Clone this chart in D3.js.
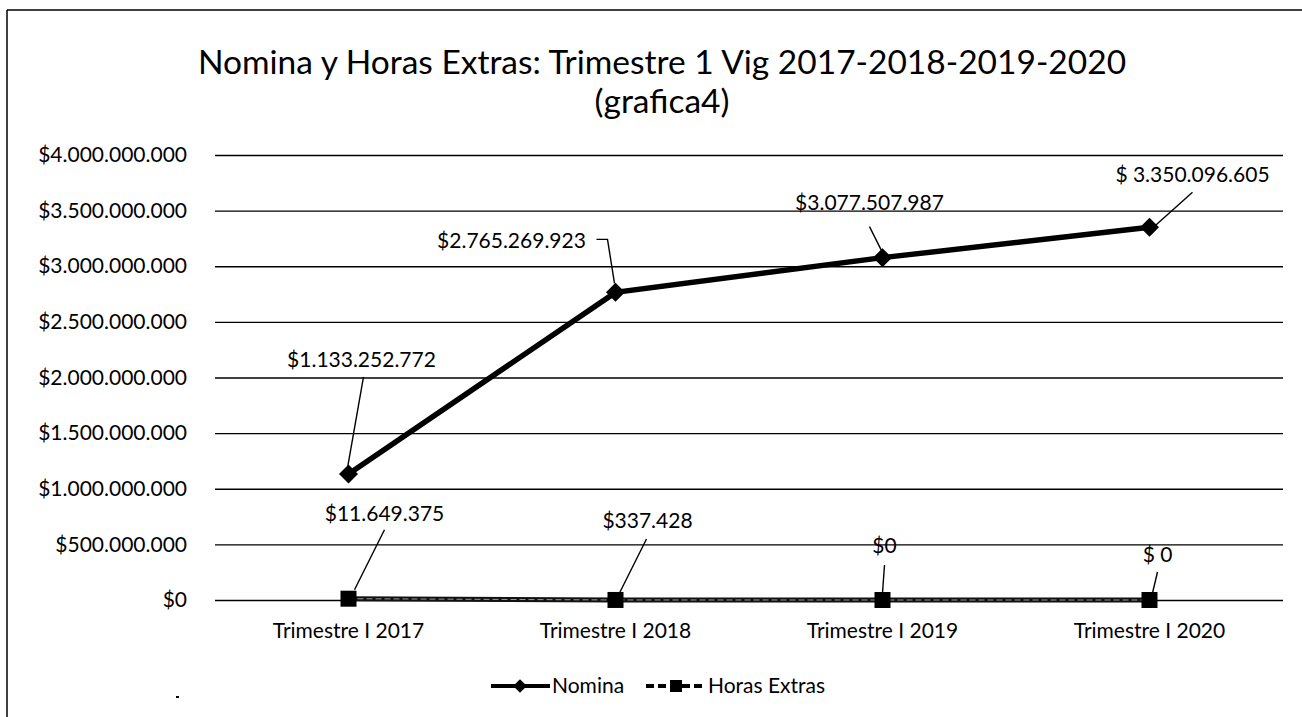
<!DOCTYPE html>
<html>
<head>
<meta charset="utf-8">
<script src="https://cdn.jsdelivr.net/npm/d3@7"></script>
<style>
  body { margin: 0; background: #fff; }
  text { font-family: Lato, "Open Sans", sans-serif; fill: #000; }
</style>
</head>
<body>
<div id="chart"></div>
<script>
// datos
var categorias = ["Trimestre I 2017", "Trimestre I 2018", "Trimestre I 2019", "Trimestre I 2020"];
var nomina     = [1133252772, 2765269923, 3077507987, 3350096605];
var horas      = [11649375, 337428, 0, 0];
var etqNomina  = ["$1.133.252.772", "$2.765.269.923", "$3.077.507.987", "$ 3.350.096.605"];
var etqHoras   = ["$11.649.375", "$337.428", "$0", "$ 0"];
var yTicks     = [0, 500000000, 1000000000, 1500000000, 2000000000, 2500000000, 3000000000, 3500000000, 4000000000];

var width  = 1302,
    height = 717;
var margin = {top: 155, right: 19, bottom: 117, left: 215};
var fs = "21px";

var svg = d3.select("#chart").append("svg")
      .attr("width", width)
      .attr("height", height);

// borde del grafico (escaneado, solo arriba e izquierda)
svg.append("line").attr("x1", 7).attr("y1", 10).attr("x2", width).attr("y2", 10)
   .attr("stroke", "#000").attr("stroke-width", 1.5);
svg.append("line").attr("x1", 7).attr("y1", 10).attr("x2", 7).attr("y2", height)
   .attr("stroke", "#000").attr("stroke-width", 1.5);

// titulo
svg.append("text").attr("x", 662).attr("y", 74).attr("text-anchor", "middle")
   .style("font-size", "33.5px").text("Nomina y Horas Extras: Trimestre 1 Vig 2017-2018-2019-2020");
svg.append("text").attr("x", 662).attr("y", 113).attr("text-anchor", "middle")
   .style("font-size", "33.5px").text("(grafica4)");

var x = d3.scaleBand()
      .domain(categorias)
      .range([margin.left, width - margin.right]);

var y = d3.scaleLinear()
      .domain([0, 4000000000])
      .range([height - margin.bottom, margin.top]);

function pesos(v) {
  return "$" + d3.format(",")(v).replace(/,/g, ".");
}

// lineas de cuadricula
var yAxis = svg.append("g")
      .attr("transform", "translate(" + margin.left + ",0)")
      .call(d3.axisLeft(y).tickValues(yTicks).tickSize(-(width - margin.left - margin.right))
            .tickPadding(28).tickFormat(pesos));
yAxis.select(".domain").remove();
yAxis.selectAll(".tick line").attr("stroke", "#000").attr("stroke-width", 1.3);
yAxis.selectAll(".tick text").style("font-size", fs).style("font-family", "Lato, sans-serif");

var xAxis = svg.append("g")
      .attr("transform", "translate(0," + (height - margin.bottom) + ")")
      .call(d3.axisBottom(x).tickSize(0).tickPadding(23));
xAxis.select(".domain").remove();
xAxis.selectAll(".tick text").style("font-size", fs).style("font-family", "Lato, sans-serif");

function cx(i) { return x(categorias[i]) + x.bandwidth() / 2; }

// Horas Extras
var lineaH = d3.line().x(function (d, i) { return cx(i); }).y(function (d) { return y(d); });
svg.append("path").datum(horas).attr("d", lineaH)
   .attr("fill", "none").attr("stroke", "#111").attr("stroke-width", 5);
svg.append("path").datum(horas).attr("d", lineaH)
   .attr("fill", "none").attr("stroke", "#999").attr("stroke-width", 1).attr("stroke-dasharray", "6,3");
svg.selectAll(".sq").data(horas).enter().append("rect")
   .attr("x", function (d, i) { return cx(i) - 8; })
   .attr("y", function (d) { return y(d) - 8; })
   .attr("width", 16).attr("height", 16).attr("fill", "#000");

// Nomina
svg.append("path").datum(nomina).attr("d", lineaH)
   .attr("fill", "none").attr("stroke", "#000").attr("stroke-width", 5.5);
svg.selectAll(".dia").data(nomina).enter().append("path")
   .attr("d", d3.symbol().type(d3.symbolDiamond2).size(230))
   .attr("transform", function (d, i) { return "translate(" + cx(i) + "," + y(d) + ")"; })
   .attr("fill", "#000");

// etiquetas con lineas guia, desplazadas respecto al punto
var guiaN = [
  {tx: 13,   ty: -107, l: [[15, -97], [-1, -6]]},
  {tx: -104, ty: -44,  l: [[-19, -53], [-8, -53], [-1, -9]]},
  {tx: -13,  ty: -48,  l: [[-13, -31], [1, -3]]},
  {tx: 43,   ty: -45,  l: [[43, -35], [5, -1]]}
];
var guiaH = [
  {tx: 36, ty: -78, l: [[36, -69], [6, -9]]},
  {tx: 32, ty: -72, l: [[31, -61], [4, -7]]},
  {tx: 2,  ty: -47, l: [[2, -35], [0, -7]]},
  {tx: 8,  ty: -38, l: [[8, -28], [3, -7]]}
];

function etiquetas(vals, textos, guias) {
  vals.forEach(function (v, i) {
    var px = cx(i), py = y(v), g = guias[i];
    svg.append("path")
       .attr("d", d3.line()(g.l.map(function (p) { return [px + p[0], py + p[1]]; })))
       .attr("fill", "none").attr("stroke", "#000").attr("stroke-width", 1.4);
    svg.append("text").attr("x", px + g.tx).attr("y", py + g.ty)
       .attr("text-anchor", "middle").style("font-size", fs).text(textos[i]);
  });
}
etiquetas(nomina, etqNomina, guiaN);
etiquetas(horas, etqHoras, guiaH);

// leyenda
var ly = 686;
var leg = svg.append("g");
leg.append("line").attr("x1", 491).attr("x2", 550).attr("y1", ly).attr("y2", ly)
   .attr("stroke", "#000").attr("stroke-width", 4);
leg.append("path").attr("d", d3.symbol().type(d3.symbolDiamond2).size(120))
   .attr("transform", "translate(520," + ly + ")");
leg.append("text").attr("x", 552).attr("y", ly + 7).style("font-size", fs).text("Nomina");
leg.append("line").attr("x1", 646).attr("x2", 706).attr("y1", ly).attr("y2", ly)
   .attr("stroke", "#000").attr("stroke-width", 4).attr("stroke-dasharray", "8,4");
leg.append("rect").attr("x", 670).attr("y", ly - 6).attr("width", 12).attr("height", 12);
leg.append("text").attr("x", 708).attr("y", ly + 7).style("font-size", fs).text("Horas Extras");

// marca suelta abajo a la izquierda
svg.append("line").attr("x1", 176).attr("x2", 179).attr("y1", 697).attr("y2", 697)
   .attr("stroke", "#000").attr("stroke-width", 2);
</script>
</body>
</html>
